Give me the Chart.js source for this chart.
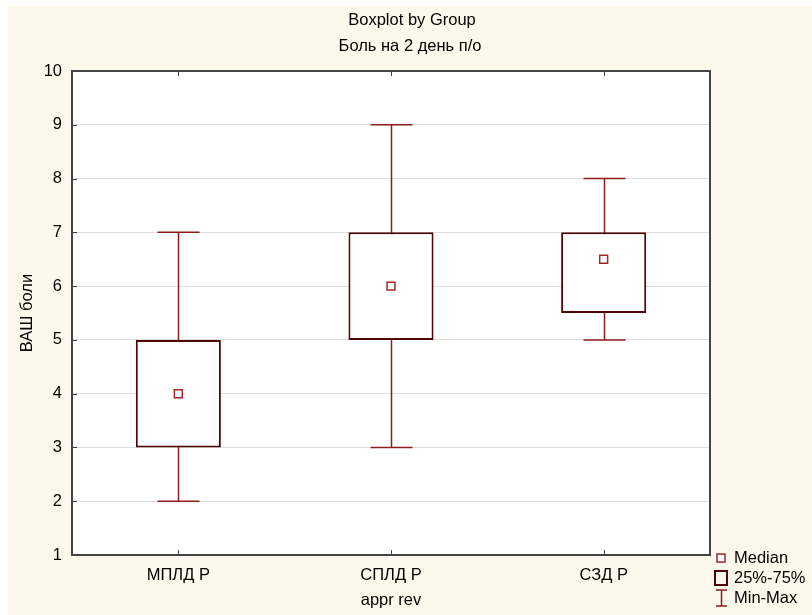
<!DOCTYPE html>
<html>
<head>
<meta charset="utf-8">
<script src="https://cdn.jsdelivr.net/npm/chart.js@4.4.1/dist/chart.umd.min.js"></script>
<style>
  html, body { margin: 0; padding: 0; background: #ffffff; }
  #wrap { width: 812px; height: 615px; }
</style>
</head>
<body>
<div id="wrap"><canvas id="c" width="812" height="615"></canvas></div>
<script>
// Pain score (VAS) on day 2 after surgery, by group
const groups = ['МПЛД Р', 'СПЛД Р', 'СЗД Р'];
const minValues = [2, 3, 5];
const q1Values = [3, 5, 5.5];
const medianValues = [4, 6, 6.5];
const q3Values = [5, 7, 7];
const maxValues = [7, 9, 8];

const titleLines = ['Boxplot by Group', 'Боль на 2 день п/о'];
const xTitle = 'appr rev';
const yTitle = 'ВАШ боли';
const legendLabels = ['Median', '25%-75%', 'Min-Max'];

const FONT = '"Liberation Sans", Arial, sans-serif';
const FONT_SIZE = 16.5;
const CREAM = '#fdf8ec';
const BOX_COLOR = '#4e0505';
const WHISKER_COLOR = '#8e1c1c';
const MEDIAN_COLOR = '#a3262a';

const boxData = groups.map((g, i) => [q1Values[i], q3Values[i]]);

// Page background, title, whiskers, frame, inward ticks and legend
const decorations = {
  id: 'decorations',
  beforeDraw(chart) {
    const { ctx, chartArea: a, width, height } = chart;
    ctx.save();
    ctx.fillStyle = '#ffffff';
    ctx.fillRect(0, 0, width, height);
    ctx.fillStyle = CREAM;
    ctx.fillRect(8, 6, width - 8, height - 6);
    ctx.fillStyle = '#ffffff';
    ctx.fillRect(a.left, a.top, a.right - a.left, a.bottom - a.top);
    ctx.restore();
  },
  beforeDatasetsDraw(chart) {
    const { ctx } = chart;
    const x = chart.scales.x, y = chart.scales.y;
    const capHalf = 21;
    ctx.save();
    ctx.strokeStyle = WHISKER_COLOR;
    ctx.lineWidth = 1.5;
    groups.forEach((g, i) => {
      const px = Math.round(x.getPixelForValue(i)) + 0.5;
      const yMin = y.getPixelForValue(minValues[i]);
      const yMax = y.getPixelForValue(maxValues[i]);
      ctx.beginPath();
      ctx.moveTo(px, yMin);
      ctx.lineTo(px, yMax);
      ctx.moveTo(px - capHalf, yMin);
      ctx.lineTo(px + capHalf, yMin);
      ctx.moveTo(px - capHalf, yMax);
      ctx.lineTo(px + capHalf, yMax);
      ctx.stroke();
    });
    ctx.restore();
  },
  afterDraw(chart) {
    const { ctx, chartArea: a } = chart;
    const x = chart.scales.x, y = chart.scales.y;
    ctx.save();

    // title
    ctx.fillStyle = '#000';
    ctx.font = FONT_SIZE + 'px ' + FONT;
    ctx.textAlign = 'center';
    ctx.textBaseline = 'middle';
    ctx.fillText(titleLines[0], 412, 20);
    ctx.fillText(titleLines[1], 410, 46);

    // inward tick marks
    ctx.strokeStyle = '#404040';
    ctx.lineWidth = 1;
    ctx.beginPath();
    for (let v = 1; v <= 10; v++) {
      const py = Math.round(y.getPixelForValue(v)) + 0.5;
      ctx.moveTo(a.left, py);
      ctx.lineTo(a.left + 5, py);
    }
    groups.forEach((g, i) => {
      const px = Math.round(x.getPixelForValue(i)) + 0.5;
      ctx.moveTo(px, a.bottom);
      ctx.lineTo(px, a.bottom - 5);
      ctx.moveTo(px, a.top);
      ctx.lineTo(px, a.top + 5);
    });
    ctx.stroke();

    // frame
    ctx.strokeStyle = '#444444';
    ctx.lineWidth = 2;
    ctx.strokeRect(a.left, a.top, a.right - a.left, a.bottom - a.top);

    // legend
    const lx = 721;
    const rows = [558, 578, 598];
    // median marker
    ctx.strokeStyle = MEDIAN_COLOR;
    ctx.lineWidth = 1.5;
    ctx.fillStyle = '#ffffff';
    ctx.fillRect(lx - 4, rows[0] - 4, 8, 8);
    ctx.strokeRect(lx - 4, rows[0] - 4, 8, 8);
    // box
    ctx.strokeStyle = BOX_COLOR;
    ctx.lineWidth = 2;
    ctx.strokeRect(lx - 6, rows[1] - 7, 12, 14);
    // whisker
    ctx.strokeStyle = WHISKER_COLOR;
    ctx.lineWidth = 1.5;
    ctx.beginPath();
    ctx.moveTo(lx - 5, rows[2] - 8); ctx.lineTo(lx + 6, rows[2] - 8);
    ctx.moveTo(lx + 0.5, rows[2] - 8); ctx.lineTo(lx + 0.5, rows[2] + 8);
    ctx.moveTo(lx - 5, rows[2] + 8); ctx.lineTo(lx + 6, rows[2] + 8);
    ctx.stroke();

    ctx.fillStyle = '#000';
    ctx.font = FONT_SIZE + 'px ' + FONT;
    ctx.textAlign = 'left';
    ctx.textBaseline = 'middle';
    legendLabels.forEach((t, i) => ctx.fillText(t, 734, rows[i]));
    ctx.restore();
  }
};

new Chart(document.getElementById('c'), {
  data: {
    labels: groups,
    datasets: [
      {
        type: 'line',
        label: legendLabels[0],
        data: medianValues,
        showLine: false,
        pointStyle: 'rect',
        pointRadius: 5.6,
        pointHoverRadius: 5.6,
        pointBorderWidth: 1.5,
        pointBackgroundColor: '#ffffff',
        pointBorderColor: MEDIAN_COLOR,
        order: 0
      },
      {
        type: 'bar',
        label: legendLabels[1],
        data: boxData,
        backgroundColor: '#ffffff',
        borderColor: BOX_COLOR,
        borderWidth: 2,
        borderSkipped: false,
        categoryPercentage: 1,
        barPercentage: 0.4,
        order: 1
      }
    ]
  },
  options: {
    responsive: false,
    animation: false,
    events: [],
    layout: { padding: { top: 71, right: 102, bottom: 0, left: 0 } },
    plugins: {
      legend: { display: false },
      title: { display: false },
      tooltip: { enabled: false }
    },
    scales: {
      x: {
        type: 'category',
        offset: true,
        grid: { display: false, drawTicks: false },
        border: { display: false },
        ticks: { color: '#000', font: { family: FONT, size: FONT_SIZE }, padding: 11, maxRotation: 0 },
        title: { display: true, text: xTitle, color: '#000', font: { family: FONT, size: FONT_SIZE }, padding: { top: 0, bottom: 5 } },
        afterFit(scale) { scale.height = 60; }
      },
      y: {
        min: 1,
        max: 10,
        grid: { color: '#dedede', lineWidth: 1, drawTicks: false },
        border: { display: false },
        ticks: { stepSize: 1, color: '#000', font: { family: FONT, size: FONT_SIZE }, padding: 10 },
        title: { display: true, text: yTitle, color: '#000', font: { family: FONT, size: FONT_SIZE }, padding: { top: 18, bottom: 0 } },
        afterFit(scale) { scale.width = 72; }
      }
    }
  },
  plugins: [decorations]
});
</script>
</body>
</html>
